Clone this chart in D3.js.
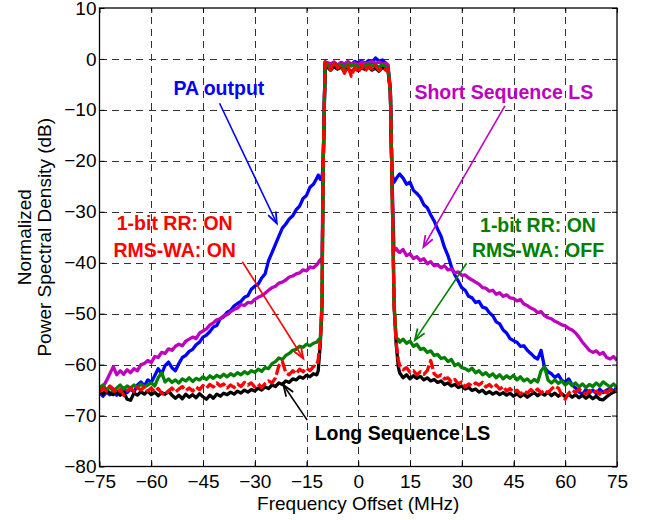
<!DOCTYPE html>
<html><head><meta charset="utf-8">
<script src="https://cdn.jsdelivr.net/npm/d3@7"></script>
<style>body{margin:0;background:#fff}svg{display:block}</style>
</head><body>
<svg id="c" width="645" height="520"></svg>
<script>
// ---------- data ----------
const freqMHz = [
-75,-74,-73,-72,-71,-70,-69,-68,-67,-66,
-65,-64,-63,-62,-61,-60,-59,-58,-57,-56,
-55,-54,-53,-52,-51,-50,-49,-48,-47,-46,
-45,-44,-43,-42,-41,-40,-39,-38,-37,-36,
-35,-34,-33,-32,-31,-30,-29,-28,-27,-26,
-25,-24,-23,-22,-21,-20,-19,-18,-17,-16,
-15,-14,-13,-12,
-11.6,-11,-10.5,-10.2,-9.6,
-9,-8,-7,-6,-5,-4,-3,-2,-1,0,1,2,3,4,5,6,7,8,
8.6,9.3,9.75,10.4,11,11.6,
12,13,14,15,16,17,18,19,20,21,
22,23,24,25,26,27,28,29,30,31,
32,33,34,35,36,37,38,39,40,41,
42,43,44,45,46,47,48,49,50,51,
52,53,54,55,56,57,58,59,60,61,
62,63,64,65,66,67,68,69,70,71,
72,73,74,75];

const paOutput = [
-65.5,-66.2,-65.4,-65.9,-65.2,-66.0,-65.3,-64.6,-65.5,-64.8,
-65.4,-64.0,-63.4,-64.2,-63.0,-63.5,-62.2,-60.8,-61.8,-60.2,
-59.5,-60.6,-61.2,-59.8,-58.6,-58.2,-57.4,-57.0,-56.1,-55.6,
-54.6,-54.2,-53.5,-52.6,-52.3,-51.0,-50.6,-49.7,-49.4,-48.5,
-48.0,-47.6,-46.8,-46.5,-45.2,-44.6,-44.2,-43.0,-42.2,-39.6,
-38.0,-36.4,-34.8,-33.2,-32.4,-31.4,-30.8,-29.6,-28.9,-27.4,
-26.8,-25.2,-24.6,-23.4,
-22.8,-23.6,-23.0,-21.5,-0.8,
-0.8,-1.2,-0.9,-1.3,-0.7,-1.0,-0.6,-1.1,-0.5,-0.8,-0.4,-0.9,-0.3,-0.7,0.2,-0.4,-0.2,-0.9,
-1.2,-6.0,-22.5,-24.2,-23.5,-22.9,
-22.6,-23.4,-24.6,-24.2,-25.8,-26.4,-27.2,-28.6,-29.2,-30.6,
-31.8,-33.4,-34.8,-37.0,-38.6,-40.8,-42.4,-43.6,-44.9,-45.4,
-46.6,-46.9,-47.8,-47.6,-48.7,-48.9,-49.8,-50.4,-51.6,-52.0,
-53.2,-53.8,-54.9,-55.3,-55.6,-56.4,-56.3,-57.2,-57.8,-58.5,
-58.9,-57.2,-60.6,-61.4,-61.8,-62.5,-62.0,-63.1,-63.4,-62.8,
-64.0,-64.6,-65.4,-65.8,-64.9,-65.6,-65.0,-65.7,-64.8,-65.5,
-65.0,-64.6,-65.3,-64.4];

const shortSeqLS = [
-65.2,-64.4,-63.2,-61.8,-60.4,-62.0,-61.2,-61.9,-61.0,-61.6,
-60.8,-61.2,-60.0,-59.8,-59.2,-59.6,-58.4,-58.6,-57.6,-57.8,
-56.9,-57.2,-56.4,-56.0,-56.3,-55.4,-55.0,-54.6,-54.9,-53.8,
-53.4,-53.0,-52.2,-51.8,-51.2,-51.0,-50.4,-50.2,-49.6,-49.2,
-48.9,-48.2,-48.4,-47.8,-47.9,-47.2,-46.8,-46.5,-46.0,-45.4,
-44.9,-44.6,-44.0,-43.8,-43.4,-42.8,-42.6,-42.2,-42.0,-41.4,
-41.6,-40.8,-41.0,-40.4,
-40.0,-39.4,-40.0,-22.0,-0.6,
-0.7,-1.0,-0.6,-1.2,-0.8,-1.1,-0.5,-1.0,-0.8,-1.2,-0.6,-1.0,-0.7,-0.5,-0.9,-0.6,-1.0,-0.8,
-1.2,-6.0,-22.2,-37.6,-37.2,-37.8,
-38.0,-37.4,-38.6,-38.2,-39.2,-38.8,-39.6,-39.2,-40.2,-39.8,
-40.6,-40.4,-41.0,-40.6,-41.4,-41.2,-42.0,-41.8,-42.5,-42.4,
-43.0,-43.4,-43.8,-44.2,-44.9,-45.0,-45.6,-45.4,-46.2,-45.9,
-46.6,-46.3,-46.9,-47.0,-47.5,-47.2,-48.1,-48.4,-48.9,-49.2,
-49.8,-49.6,-50.4,-50.8,-51.0,-51.5,-51.8,-52.2,-52.4,-52.9,
-53.2,-53.8,-54.6,-55.6,-56.4,-57.2,-57.6,-57.3,-58.0,-57.6,
-58.6,-58.9,-58.4,-59.2];

const longSeqLS = [
-65.2,-65.8,-64.9,-65.6,-65.9,-65.2,-66.0,-65.4,-66.8,-67.0,
-65.6,-66.0,-65.3,-65.8,-65.2,-65.9,-65.4,-66.1,-65.5,-65.8,
-65.2,-66.0,-66.6,-66.0,-66.7,-65.8,-66.4,-65.9,-66.5,-65.7,
-66.3,-66.8,-66.0,-66.6,-65.8,-66.2,-65.6,-65.9,-65.4,-65.8,
-65.2,-65.6,-65.0,-65.4,-64.9,-65.2,-64.6,-65.0,-64.4,-64.7,
-64.0,-64.3,-63.6,-63.9,-63.2,-63.5,-62.8,-63.0,-62.4,-62.7,
-62.1,-62.4,-61.8,-62.0,
-61.2,-56.0,-48.7,-22.4,-1.0,
-1.6,-2.2,-1.5,-2.0,-1.6,-2.4,-1.8,-2.6,-1.9,-2.3,-1.7,-2.1,-1.6,-2.2,-1.8,-2.4,-1.7,-2.0,
-2.2,-6.4,-22.6,-48.8,-56.0,-60.4,
-61.6,-62.6,-62.0,-62.8,-62.2,-62.7,-62.3,-63.0,-62.6,-63.2,
-62.9,-63.5,-63.2,-63.9,-63.6,-64.2,-63.9,-64.5,-64.2,-64.8,
-64.5,-65.1,-64.8,-65.4,-65.0,-65.7,-65.3,-65.8,-65.4,-65.9,
-65.5,-66.0,-65.6,-66.2,-65.7,-66.3,-65.8,-66.4,-65.9,-65.5,
-66.1,-65.6,-66.0,-65.4,-66.1,-65.6,-66.2,-65.7,-66.3,-65.8,
-66.4,-65.9,-66.5,-66.0,-66.6,-66.1,-66.7,-66.2,-66.8,-66.9,
-66.3,-65.8,-65.4,-65.1];

const rrOnWaOff = [
-64.6,-64.0,-65.0,-64.4,-65.2,-64.6,-64.0,-64.8,-64.2,-64.6,
-64.0,-64.5,-63.8,-64.4,-64.0,-63.6,-64.2,-62.6,-61.6,-63.4,
-62.8,-63.5,-63.0,-63.6,-62.8,-63.2,-62.6,-63.3,-62.7,-63.0,
-62.4,-62.9,-62.2,-62.7,-62.1,-62.5,-61.9,-62.4,-61.8,-62.2,
-61.6,-62.0,-61.4,-61.8,-61.2,-61.5,-60.9,-61.3,-60.6,-60.8,
-59.8,-59.4,-58.7,-59.0,-58.2,-57.8,-57.2,-57.0,-56.4,-56.6,
-56.0,-56.3,-55.8,-55.6,
-55.2,-54.8,-47.5,-22.4,-0.6,
-1.2,-1.6,-1.0,-1.5,-1.2,-1.7,-1.0,-1.4,-1.1,-1.6,-1.2,-1.5,-1.0,-1.4,-1.2,-1.6,-1.1,-1.5,
-1.6,-6.2,-22.4,-48.0,-54.8,-55.0,
-55.6,-55.0,-55.8,-55.4,-56.4,-56.0,-57.0,-56.8,-57.6,-57.3,
-58.2,-58.0,-58.8,-58.6,-59.4,-59.0,-60.2,-59.8,-60.6,-60.8,
-61.2,-60.7,-61.6,-61.2,-62.0,-61.6,-62.3,-61.8,-62.6,-62.0,
-62.8,-62.2,-62.7,-62.1,-63.0,-62.4,-63.2,-62.8,-63.5,-62.9,
-63.4,-61.2,-60.4,-63.0,-63.6,-63.0,-63.7,-63.2,-64.0,-63.4,
-64.1,-63.6,-64.4,-63.8,-64.5,-63.9,-64.3,-63.6,-64.2,-63.4,
-63.9,-64.4,-63.8,-64.5];

const rrOnWaOn = [
-65.4,-64.6,-65.2,-64.2,-64.8,-65.6,-64.9,-66.0,-65.2,-64.6,
-65.3,-64.5,-65.0,-64.4,-65.2,-64.6,-65.3,-64.7,-65.6,-66.0,
-65.2,-64.6,-65.4,-64.8,-64.3,-65.1,-64.6,-65.2,-64.4,-64.9,
-64.1,-64.6,-63.9,-64.4,-63.6,-64.2,-63.8,-64.6,-64.0,-64.5,
-63.8,-64.3,-63.5,-64.0,-63.6,-64.4,-63.8,-64.5,-63.7,-63.2,
-63.6,-62.6,-60.2,-59.4,-61.6,-62.0,-61.2,-61.8,-60.9,-61.4,
-60.7,-61.2,-60.4,-60.0,
-59.0,-55.4,-48.6,-22.4,-0.6,
-1.0,-2.2,-0.5,-1.8,-1.2,-2.8,-1.4,-3.4,-1.6,-2.6,-1.2,-2.4,-1.5,-2.0,-1.3,-2.3,-1.6,-2.2,
-1.8,-6.2,-22.4,-48.4,-55.8,-59.0,
-60.2,-61.0,-60.6,-61.5,-61.2,-62.0,-61.4,-61.9,-61.2,-59.2,
-61.8,-62.4,-62.0,-62.8,-62.6,-63.4,-62.9,-63.8,-63.4,-64.4,
-63.8,-64.2,-63.6,-64.0,-63.5,-64.4,-63.9,-64.6,-64.0,-64.8,
-64.3,-65.2,-64.7,-65.4,-65.0,-65.8,-65.2,-65.6,-64.9,-65.4,
-64.8,-65.6,-65.0,-65.5,-64.8,-64.2,-64.6,-66.0,-66.8,-65.6,
-65.0,-65.5,-64.8,-65.4,-65.8,-65.1,-65.7,-65.2,-65.8,-65.0,
-65.5,-64.9,-65.4,-65.0];

const xTicks = [-75,-60,-45,-30,-15,0,15,30,45,60,75];
const yTicks = [10,0,-10,-20,-30,-40,-50,-60,-70,-80];

// ---------- layout ----------
const W = 645, H = 520;
const L = 99.5, R = 617, T = 8, B = 466.5;
const FONT = '"Liberation Sans", Arial, Helvetica, sans-serif';

const svg = d3.select('#c');
const x = d3.scaleLinear().domain([-75, 75]).range([L, R]);
const y = d3.scaleLinear().domain([-80, 10]).range([B, T]);

svg.append('rect').attr('width', W).attr('height', H).attr('fill', '#fff');

// grid
const grid = svg.append('g').attr('stroke', '#333').attr('stroke-width', 1)
  .attr('stroke-dasharray', '7,5.3').attr('shape-rendering', 'crispEdges');
grid.selectAll('line.v').data(xTicks.slice(1, -1)).join('line')
  .attr('x1', d => Math.round(x(d)) + 0.5).attr('x2', d => Math.round(x(d)) + 0.5)
  .attr('y1', B).attr('y2', T);
grid.selectAll('line.h').data(yTicks.slice(1, -1)).join('line')
  .attr('y1', d => Math.round(y(d)) + 0.5).attr('y2', d => Math.round(y(d)) + 0.5)
  .attr('x1', L).attr('x2', R);

// axes with inward ticks
function styleAxis(g, withText) {
  g.select('.domain').remove();
  g.selectAll('.tick line').attr('stroke', '#000').attr('stroke-width', 1);
  g.selectAll('.tick text').attr('fill', '#000').style('font-family', FONT).style('font-size', '19px');
  if (!withText) g.selectAll('.tick text').remove();
}
svg.append('g').attr('transform', `translate(0,${B})`)
  .call(d3.axisBottom(x).tickValues(xTicks).tickSize(-5).tickPadding(8).tickFormat(d3.format('d')))
  .call(g => styleAxis(g, true));
svg.append('g').attr('transform', `translate(0,${T})`)
  .call(d3.axisTop(x).tickValues(xTicks).tickSize(-5))
  .call(g => styleAxis(g, false));
svg.append('g').attr('transform', `translate(${L},0)`)
  .call(d3.axisLeft(y).tickValues(yTicks).tickSize(-5).tickPadding(3).tickFormat(d3.format('d')))
  .call(g => styleAxis(g, true));
svg.append('g').attr('transform', `translate(${R},0)`)
  .call(d3.axisRight(y).tickValues(yTicks).tickSize(-5))
  .call(g => styleAxis(g, false));

// clip
svg.append('clipPath').attr('id', 'clip').append('rect')
  .attr('x', L).attr('y', T).attr('width', R - L).attr('height', B - T);

const series = [
  { values: paOutput,   color: '#0000FF', dash: null },
  { values: shortSeqLS, color: '#BF00BF', dash: null },
  { values: longSeqLS,  color: '#000000', dash: null },
  { values: rrOnWaOff,  color: '#008000', dash: null },
  { values: rrOnWaOn,   color: '#FF0000', dash: '11,3' }
];
const line = d3.line().x((d, i) => x(freqMHz[i])).y(d => y(d));
const curves = svg.append('g').attr('clip-path', 'url(#clip)');
series.forEach(s => {
  curves.append('path').datum(s.values)
    .attr('d', line).attr('fill', 'none')
    .attr('stroke', s.color).attr('stroke-width', 3.3)
    .attr('stroke-linejoin', 'round')
    .attr('stroke-dasharray', s.dash);
});

// frame
svg.append('rect').attr('x', L).attr('y', T).attr('width', R - L).attr('height', B - T)
  .attr('fill', 'none').attr('stroke', '#000').attr('stroke-width', 1.3);

// axis titles
svg.append('text').attr('x', x(0)).attr('y', 510).attr('text-anchor', 'middle')
  .style('font-family', FONT).style('font-size', '19px').text('Frequency Offset (MHz)');
const yl = svg.append('text').attr('transform', `translate(0,${(T + B) / 2}) rotate(-90)`)
  .attr('text-anchor', 'middle').style('font-family', FONT).style('font-size', '19px');
yl.append('tspan').attr('x', 0).attr('y', 31).text('Normalized');
yl.append('tspan').attr('x', 0).attr('y', 51).text('Power Spectral Density (dB)');

// annotations (data coordinates)
const notes = [
  { lines: ['PA output'], color: '#0000FF', fx: -40.4, dbs: [-7.1],
    arrow: [-40.2, -8.7, -23.6, -32.3] },
  { lines: ['Short Sequence LS'], color: '#BF00BF', fx: 42.2, dbs: [-7.8],
    arrow: [42.5, -9.2, 18.9, -36.9] },
  { lines: ['1-bit RR: ON', 'RMS-WA: ON'], color: '#FF0000', fx: -53.2, dbs: [-33.6, -38.8],
    arrow: [-33.6, -39.8, -15.9, -58.8] },
  { lines: ['1-bit RR: ON', 'RMS-WA: OFF'], color: '#008000', fx: 52.1, dbs: [-33.9, -38.8],
    arrow: [31.4, -40.1, 16.4, -55.2] },
  { lines: ['Long Sequence LS'], color: '#000000', fx: 12.8, dbs: [-74.8],
    arrow: [-14.8, -70.9, -21.7, -64.0] }
];
const ann = svg.append('g');
notes.forEach(n => {
  n.lines.forEach((t, i) => {
    ann.append('text').attr('x', x(n.fx)).attr('y', y(n.dbs[i]))
      .attr('text-anchor', 'middle').attr('fill', n.color)
      .style('font-family', FONT).style('font-size', '19.5px').style('font-weight', 'bold')
      .text(t);
  });
  const [x1, y1, x2, y2] = [x(n.arrow[0]), y(n.arrow[1]), x(n.arrow[2]), y(n.arrow[3])];
  ann.append('line').attr('x1', x1).attr('y1', y1).attr('x2', x2).attr('y2', y2)
    .attr('stroke', n.color).attr('stroke-width', 1.6);
  const ang = Math.atan2(y2 - y1, x2 - x1), len = 12, spread = 0.36;
  const hp = [
    [x2 - len * Math.cos(ang - spread), y2 - len * Math.sin(ang - spread)],
    [x2, y2],
    [x2 - len * Math.cos(ang + spread), y2 - len * Math.sin(ang + spread)]
  ];
  ann.append('path').attr('d', d3.line()(hp)).attr('fill', 'none')
    .attr('stroke', n.color).attr('stroke-width', 1.8).attr('stroke-linejoin', 'miter');
});
</script>
</body></html>
